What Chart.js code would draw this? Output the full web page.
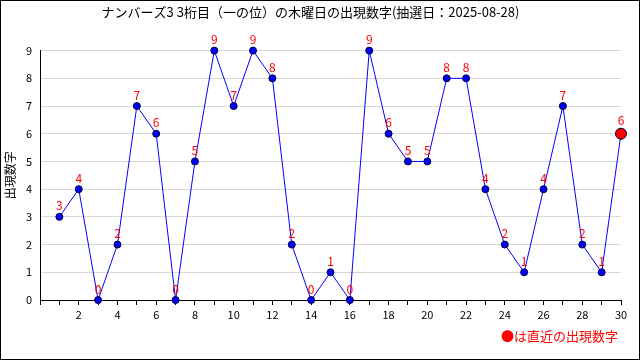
<!DOCTYPE html>
<html><head><meta charset="utf-8">
<script src="https://cdn.jsdelivr.net/npm/chart.js@4"></script>
<style>html,body{margin:0;padding:0;background:#fff}canvas{display:block}</style>
</head><body>
<div style="width:640px;height:360px"><canvas id="c" width="640" height="360"></canvas></div>
<script>
const titleText = "ナンバーズ3 3桁目（一の位）の木曜日の出現数字(抽選日：2025-08-28)";
const yAxisTitle = "出現数字";
const noteText = "●は直近の出現数字";
const drawIndex = [1,2,3,4,5,6,7,8,9,10,11,12,13,14,15,16,17,18,19,20,21,22,23,24,25,26,27,28,29,30];
const digits = [3,4,0,2,7,6,0,5,9,7,9,8,2,0,1,0,9,6,5,5,8,8,4,2,1,4,7,2,1,6];
const yTicks = [0,1,2,3,4,5,6,7,8,9];

const points = drawIndex.map((x,i)=>({x:x,y:digits[i]}));
const last = points.length-1;
const FONT = "'Noto Sans CJK JP', 'DejaVu Sans', sans-serif";

const framePlugin = {
  id:'frame',
  afterDraw(chart){
    const ctx = chart.ctx;
    ctx.save();
    ctx.strokeStyle = '#000'; ctx.lineWidth = 1;
    ctx.strokeRect(0.5,0.5,639,359);
    const meta = chart.getDatasetMeta(0);
    ctx.fillStyle = '#ff0000';
    ctx.font = "12px " + FONT;
    ctx.textAlign = 'center'; ctx.textBaseline = 'middle';
    meta.data.forEach((el,i)=>{
      const off = i===last ? 13 : 11;
      ctx.fillText(String(digits[i]), el.x, el.y - off);
    });
    ctx.font = "13px " + FONT;
    ctx.textAlign = 'right';
    ctx.fillText(noteText, 618, 336);
    ctx.restore();
  }
};

new Chart(document.getElementById('c'), {
  type:'line',
  data:{datasets:[{
    data: points,
    clip: false,
    borderColor:'#0000ff',
    borderWidth:1,
    tension:0,
    pointRadius: points.map((p,i)=> i===last ? 5.5 : 3.5),
    pointBackgroundColor: points.map((p,i)=> i===last ? '#ff0000' : '#0000ff'),
    pointBorderColor: '#000033',
    pointBorderWidth: 1
  }]},
  options:{
    responsive:false,
    animation:false,
    events:[],
    layout:{padding:{left:0,right:19,top:0,bottom:0}},
    plugins:{
      legend:{display:false},
      tooltip:{enabled:false},
      title:{display:true,text:titleText,color:'#000',font:{family:FONT,size:13,weight:'normal'},padding:{top:4,bottom:31}}
    },
    scales:{
      x:{
        type:'linear', min:0, max:30,
        afterFit(s){ s.height = 60; },
        border:{color:'#000',width:1},
        grid:{drawOnChartArea:false, drawTicks:true, tickLength:5, color:'#000'},
        ticks:{stepSize:1, autoSkip:false, maxRotation:0, color:'#000', padding:3,
          font:{family:FONT,size:11},
          callback:(v)=> (v>0 && v%2===0) ? String(v) : ''}
      },
      y:{
        min:0, max:9,
        afterFit(s){ s.width = 40; },
        afterBuildTicks(s){ s.ticks = yTicks.map(v=>({value:v})); },
        border:{color:'#000',width:1},
        grid:{color:'#d8d8d8', drawTicks:false},
        ticks:{color:'#000', padding:8, font:{family:FONT,size:11}},
        title:{display:true,text:yAxisTitle,color:'#000',font:{family:FONT,size:12},padding:{top:3,bottom:0}}
      }
    }
  },
  plugins:[framePlugin]
});
</script>
</body></html>
